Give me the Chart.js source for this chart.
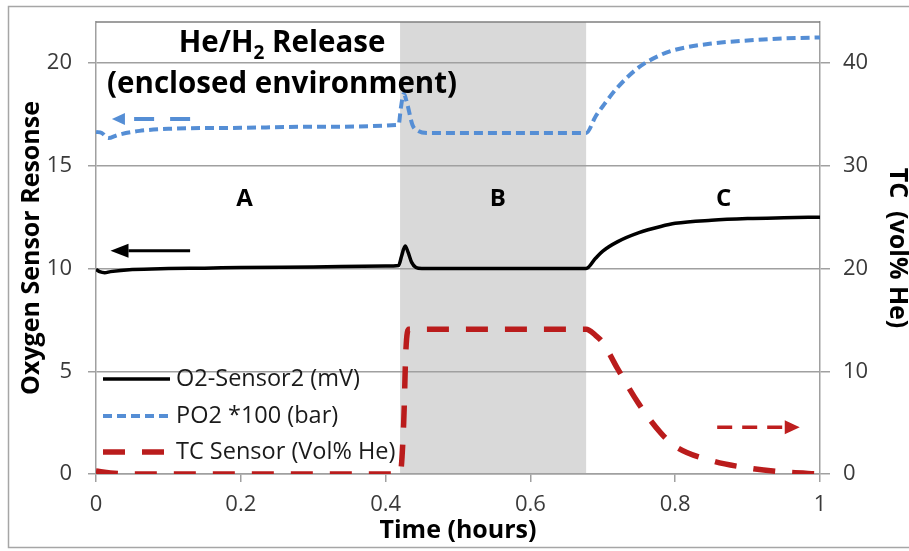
<!DOCTYPE html>
<html>
<head>
<meta charset="utf-8">
<script src="https://cdn.jsdelivr.net/npm/chart.js@4"></script>
<style>
  html, body { margin: 0; padding: 0; background: #fff; }
  #wrap { width: 909px; height: 551px; }
</style>
</head>
<body>
<div id="wrap"><canvas id="chart" width="909" height="551"></canvas></div>
<script>
// 時間軸 (hours) 與三條曲線的數值
const o2Time = [0, 0.005, 0.012, 0.02, 0.05, 0.1, 0.15, 0.2, 0.3, 0.4, 0.418, 0.422, 0.427, 0.431, 0.436, 0.442, 0.45, 0.5, 0.6, 0.677, 0.69, 0.7, 0.72, 0.75, 0.78, 0.8, 0.85, 0.9, 0.95, 1.0];
const o2Values = [9.95, 9.85, 9.8, 9.85, 9.95, 10.0, 10.02, 10.05, 10.08, 10.12, 10.15, 10.6, 11.1, 10.8, 10.3, 10.05, 10.0, 10.0, 10.0, 10.0, 10.5, 10.85, 11.3, 11.75, 12.05, 12.2, 12.35, 12.43, 12.47, 12.5];

const po2Time = [0, 0.008, 0.017, 0.03, 0.06, 0.1, 0.2, 0.3, 0.418, 0.421, 0.425, 0.43, 0.437, 0.445, 0.46, 0.6, 0.677, 0.69, 0.7, 0.72, 0.75, 0.78, 0.8, 0.85, 0.9, 0.95, 1.0];
const po2Values = [16.65, 16.6, 16.35, 16.5, 16.7, 16.8, 16.85, 16.9, 17.0, 17.8, 18.5, 18.0, 17.0, 16.7, 16.6, 16.6, 16.6, 17.4, 17.9, 18.8, 19.8, 20.4, 20.65, 20.95, 21.1, 21.2, 21.25];

const tcTime = [0, 0.02, 0.05, 0.42, 0.425, 0.428, 0.432, 0.677, 0.69, 0.7, 0.72, 0.75, 0.78, 0.8, 0.85, 0.9, 0.95, 1.0];
const tcValues = [0.3, 0.1, 0, 0, 5, 12, 14.1, 14.1, 13.5, 12.8, 10.3, 6.8, 4.0, 2.7, 1.3, 0.6, 0.2, 0.0];

const seriesNames = ['O2-Sensor2 (mV)', 'PO2 *100 (bar)', 'TC Sensor (Vol% He)'];
const releaseWindow = [0.42, 0.677];
const phaseLabels = ['A', 'B', 'C'];
const phasePositions = [0.205, 0.555, 0.867];

const FONT = "'Open Sans', Lato, sans-serif";

function toPoints(xs, ys) {
    return xs.map(function (x, i) { return { x: x, y: ys[i] }; });
}

// 箭頭 (水平)
function drawArrow(ctx, xTail, xTip, y, color, width, dash, headLen, headHalf) {
    const dir = xTip > xTail ? 1 : -1;
    ctx.save();
    ctx.strokeStyle = color;
    ctx.fillStyle = color;
    ctx.lineWidth = width;
    ctx.setLineDash(dash);
    ctx.beginPath();
    ctx.moveTo(xTail, y);
    ctx.lineTo(xTip - dir * headLen, y);
    ctx.stroke();
    ctx.setLineDash([]);
    ctx.beginPath();
    ctx.moveTo(xTip, y);
    ctx.lineTo(xTip - dir * headLen, y - headHalf);
    ctx.lineTo(xTip - dir * headLen, y + headHalf);
    ctx.closePath();
    ctx.fill();
    ctx.restore();
}

const decorPlugin = {
    id: 'decor',
    beforeDraw: function (chart) {
        const ctx = chart.ctx;
        const area = chart.chartArea;
        const x = chart.scales.x;
        ctx.save();
        // 外框
        ctx.strokeStyle = '#a6a6a6';
        ctx.lineWidth = 1.5;
        ctx.strokeRect(8.5, 6.5, 1000, 541);
        // 釋放期間的灰色區塊
        const x0 = x.getPixelForValue(releaseWindow[0]);
        const x1 = x.getPixelForValue(releaseWindow[1]);
        ctx.fillStyle = '#d9d9d9';
        ctx.fillRect(x0, area.top, x1 - x0, area.bottom - area.top);
        ctx.restore();
    },
    afterDatasetsDraw: function (chart) {
        const ctx = chart.ctx;
        const area = chart.chartArea;
        const x = chart.scales.x;
        const y = chart.scales.y;
        const y1 = chart.scales.y1;

        ctx.save();
        // 圖框上緣
        ctx.strokeStyle = '#7f7f7f';
        ctx.lineWidth = 1.5;
        ctx.beginPath();
        ctx.moveTo(area.left, area.top);
        ctx.lineTo(area.right, area.top);
        ctx.stroke();

        // 標題文字
        ctx.fillStyle = '#000';
        ctx.textBaseline = 'middle';
        const big = 'bold 29.5px ' + FONT;
        const small = 'bold 19px ' + FONT;
        ctx.font = big;
        const cx = x.getPixelForValue(0.257);
        const p1 = 'He/H', sub = '2', p2 = ' Release';
        const w1 = ctx.measureText(p1).width;
        const w2 = ctx.measureText(p2).width;
        ctx.font = small;
        const ws = ctx.measureText(sub).width;
        const tx = cx - (w1 + ws + w2) / 2;
        const ty = y.getPixelForValue(20.97);
        ctx.textAlign = 'left';
        ctx.font = big;
        ctx.fillText(p1, tx, ty);
        ctx.font = small;
        ctx.fillText(sub, tx + w1, ty + 10);
        ctx.font = big;
        ctx.fillText(p2, tx + w1 + ws, ty);
        ctx.textAlign = 'center';
        ctx.fillText('(enclosed environment)', cx, y.getPixelForValue(18.95));

        // A / B / C
        ctx.font = 'bold 24px ' + FONT;
        phaseLabels.forEach(function (lab, i) {
            ctx.fillText(lab, x.getPixelForValue(phasePositions[i]), y.getPixelForValue(13.4));
        });

        // 軸向箭頭
        drawArrow(ctx, x.getPixelForValue(0.13), x.getPixelForValue(0.02), y.getPixelForValue(10.87), '#000', 3, [], 18, 7);
        drawArrow(ctx, x.getPixelForValue(0.13), x.getPixelForValue(0.022), y.getPixelForValue(17.28), '#558ed5', 4, [20, 16], 13, 6);
        drawArrow(ctx, x.getPixelForValue(0.858), x.getPixelForValue(0.972), y1.getPixelForValue(4.56), '#be1e1e', 3.5, [15, 10], 15, 7);

        // 圖例 (圖內左下)
        ctx.textAlign = 'left';
        ctx.font = '23.5px ' + FONT;
        const rows = [379, 416, 452];
        chart.data.datasets.forEach(function (ds, i) {
            ctx.save();
            ctx.strokeStyle = ds.borderColor;
            ctx.lineWidth = ds.borderWidth;
            ctx.setLineDash(ds.borderDash || []);
            ctx.beginPath();
            ctx.moveTo(103, rows[i]);
            ctx.lineTo(170, rows[i]);
            ctx.stroke();
            ctx.restore();
            ctx.fillStyle = '#1a1a1a';
            ctx.fillText(ds.label, 176, rows[i]);
        });
        ctx.restore();
    }
};

const tickFont = { family: FONT, size: 22 };
const titleFont = { family: FONT, size: 25, weight: 'bold' };

new Chart(document.getElementById('chart'), {
    type: 'line',
    data: {
        datasets: [{
            label: seriesNames[0],
            data: toPoints(o2Time, o2Values),
            borderColor: '#000000',
            borderWidth: 3.5,
            yAxisID: 'y',
            pointRadius: 0,
            cubicInterpolationMode: 'monotone'
        }, {
            label: seriesNames[1],
            data: toPoints(po2Time, po2Values),
            borderColor: '#558ed5',
            borderWidth: 4,
            borderDash: [9, 5],
            yAxisID: 'y',
            pointRadius: 0,
            cubicInterpolationMode: 'monotone'
        }, {
            label: seriesNames[2],
            data: toPoints(tcTime, tcValues),
            borderColor: '#ba1c1c',
            borderWidth: 5.5,
            borderDash: [22, 17],
            yAxisID: 'y1',
            pointRadius: 0,
            cubicInterpolationMode: 'monotone'
        }]
    },
    options: {
        responsive: false,
        animation: false,
        layout: { padding: { left: 14, right: 0, top: 22, bottom: 0 } },
        plugins: {
            legend: { display: false },
            tooltip: { enabled: false }
        },
        scales: {
            x: {
                type: 'linear',
                min: 0,
                max: 1,
                ticks: {
                    stepSize: 0.2,
                    padding: 10,
                    color: '#3a3a3a',
                    font: tickFont,
                    callback: function (value) {
                        return String(Math.round(value * 10) / 10);
                    }
                },
                grid: { drawOnChartArea: false, color: '#a0a0a0', lineWidth: 1.5, tickLength: 8 },
                border: { display: true, color: '#a0a0a0', width: 1.5 },
                title: { display: true, text: 'Time (hours)', color: '#000', font: titleFont, padding: { top: 0, bottom: 5 } },
                afterFit: function (s) { s.height = 77; s.paddingLeft = 0; s.paddingRight = 0; }
            },
            y: {
                position: 'left',
                min: 0,
                max: 22,
                ticks: { stepSize: 5, includeBounds: false, padding: 16, color: '#3a3a3a', font: tickFont },
                grid: { color: '#a0a0a0', lineWidth: 1.5, tickLength: 8 },
                border: { display: true, color: '#a0a0a0', width: 1.5 },
                title: { display: true, text: 'Oxygen Sensor Resonse', color: '#000', font: titleFont, padding: { top: 3, bottom: 0 } },
                afterFit: function (s) { s.width = 82; s.paddingTop = 0; s.paddingBottom = 0; }
            },
            y1: {
                position: 'right',
                min: 0,
                max: 44,
                ticks: { stepSize: 10, includeBounds: false, padding: 13, color: '#3a3a3a', font: tickFont },
                grid: { drawOnChartArea: false, color: '#a0a0a0', lineWidth: 1.5, tickLength: 10 },
                border: { display: true, color: '#a0a0a0', width: 1.5 },
                title: { display: true, text: 'TC  (vol% He)', color: '#000', font: titleFont, padding: { top: -3, bottom: 0 } },
                afterFit: function (s) { s.width = 89; s.paddingTop = 0; s.paddingBottom = 0; }
            }
        }
    },
    plugins: [decorPlugin]
});
</script>
</body>
</html>
